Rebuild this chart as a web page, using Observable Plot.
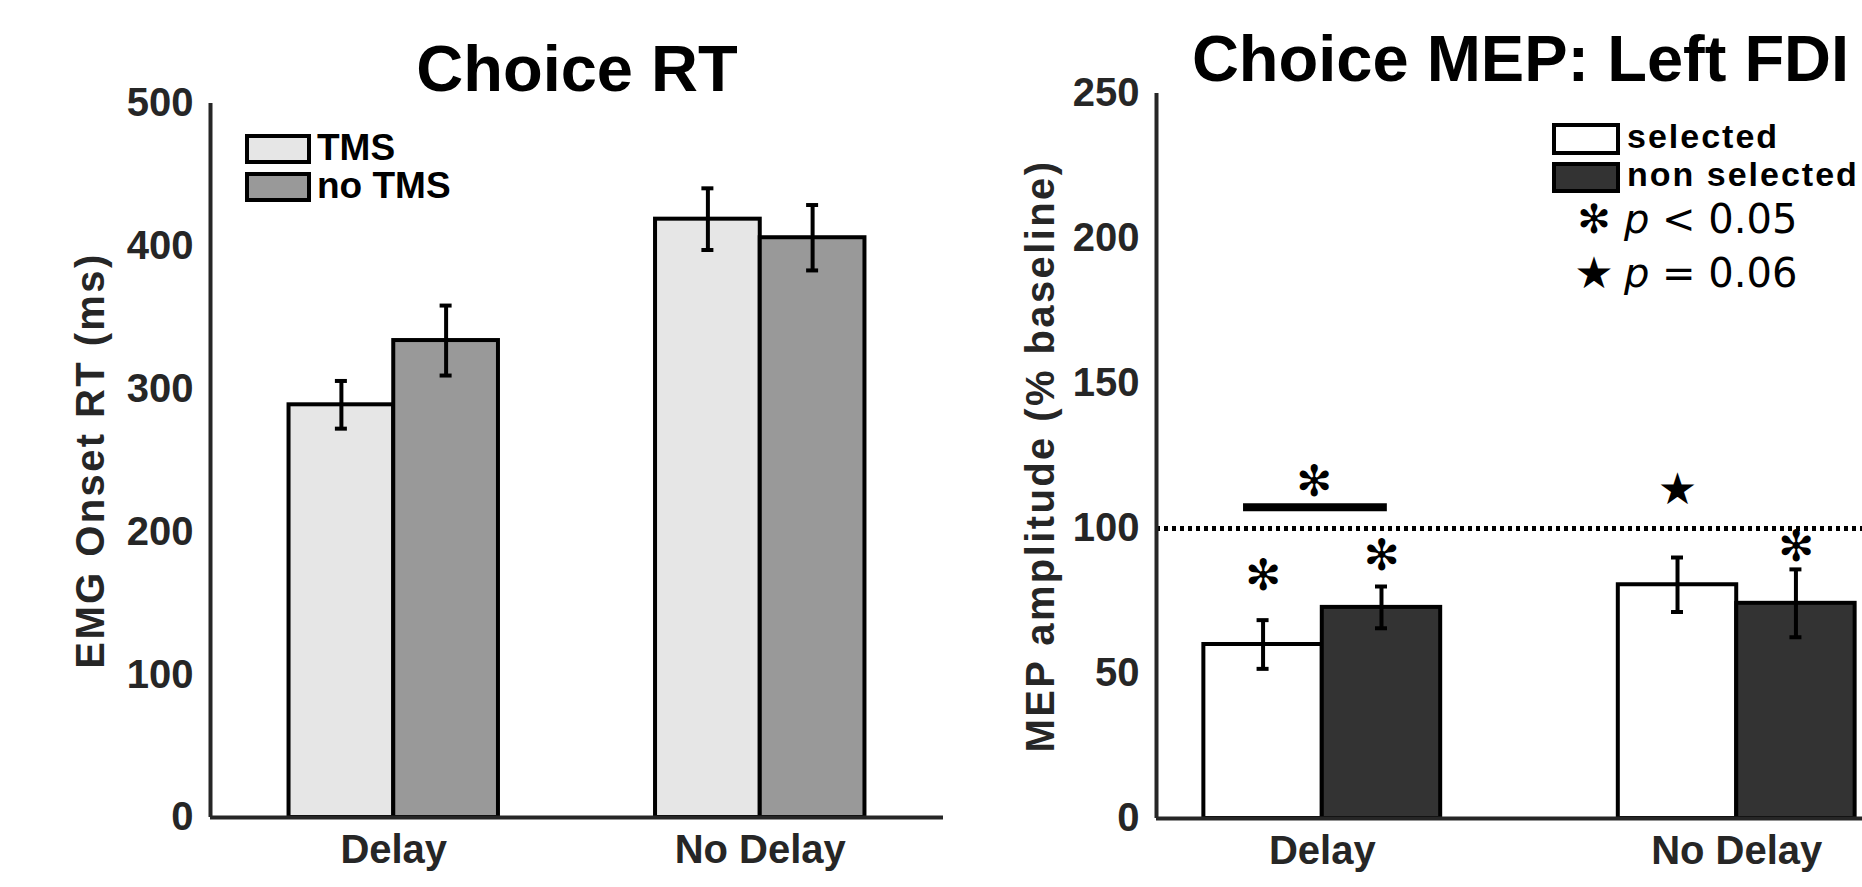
<!DOCTYPE html>
<html><head><meta charset="utf-8">
<script src="https://cdn.jsdelivr.net/npm/d3@7"></script>
<script src="https://cdn.jsdelivr.net/npm/@observablehq/plot@0.6"></script>
<style>
html,body{margin:0;padding:0;background:#fff;overflow:hidden;}
#fig{position:relative;width:1862px;height:887px;overflow:hidden;background:#fff;}
#left{position:absolute;left:0;top:0;width:960px;height:887px;}
#right{position:absolute;left:960px;top:0;width:1000px;height:887px;}
#fig svg{max-width:none !important;display:block;}
</style></head><body>
<div id="fig"><div id="left"></div><div id="right"></div></div>
<script>
// ---------- data ----------
const groups = ["Delay", "No Delay"];

// Left panel: Choice RT
const rtTitle = "Choice RT";
const rtYLabel = "EMG Onset RT (ms)";
const rtSeries = ["TMS", "no TMS"];
const rtTMS = [289, 419];
const rtTMSErr = [16.7, 21.6];
const rtNoTMS = [334, 406];
const rtNoTMSErr = [24.5, 22.9];
const rtTicks = [0, 100, 200, 300, 400, 500];

// Right panel: Choice MEP
const mepTitle = "Choice MEP: Left FDI";
const mepYLabel = "MEP amplitude (% baseline)";
const mepSeries = ["selected", "non selected"];
const mepSelected = [60, 80.6];
const mepSelectedErr = [8.4, 9.4];
const mepNonSelected = [72.8, 74.2];
const mepNonSelectedErr = [7.2, 11.7];
const mepTicks = [0, 50, 100, 150, 200, 250];
const mepBaseline = [100];

// significance annotations (group, series, height)
const sigAstGroup = ["Delay", "Delay", "No Delay"];
const sigAstSeries = ["selected", "non selected", "non selected"];
const sigAstY = [83.4, 90.3, 93.6];
const trendStarGroup = ["No Delay"];
const trendStarSeries = ["selected"];
const trendStarY = [113.2];
const pairBarX = [0.81, 1.157];
const pairBarY = [107.3];
const pairAstX = [0.98];
const pairAstY = [116.1];
const sigLegend = ["p < 0.05", "p = 0.06"];

// ---------- helpers ----------
const BW = 2 / 7; // grouped-bar width (2 bars, touching)
const center = (gi, si) => gi + 1 + (si - 0.5) * BW;
const font = "'Liberation Sans', Arial, Helvetica, sans-serif";

const rtData = groups.flatMap((g, gi) => [
  {group: g, series: rtSeries[0], c: center(gi, 0), value: rtTMS[gi], err: rtTMSErr[gi]},
  {group: g, series: rtSeries[1], c: center(gi, 1), value: rtNoTMS[gi], err: rtNoTMSErr[gi]}
]);
const mepData = groups.flatMap((g, gi) => [
  {group: g, series: mepSeries[0], c: center(gi, 0), value: mepSelected[gi], err: mepSelectedErr[gi]},
  {group: g, series: mepSeries[1], c: center(gi, 1), value: mepNonSelected[gi], err: mepNonSelectedErr[gi]}
]);
const posOf = (g, s, series) => center(groups.indexOf(g), series.indexOf(s));
const astData = sigAstGroup.map((g, i) => ({x: posOf(g, sigAstSeries[i], mepSeries), y: sigAstY[i]}));
const starData = trendStarGroup.map((g, i) => ({x: posOf(g, trendStarSeries[i], mepSeries), y: trendStarY[i]}));
const pairBar = [{x1: pairBarX[0], x2: pairBarX[1], y: pairBarY[0]}];
const pairAst = [{x: pairAstX[0], y: pairAstY[0]}];

function barMarks(data) {
  return [
    Plot.rect(data, {x1: d => d.c - BW / 2, x2: d => d.c + BW / 2, y1: 0, y2: "value", fill: "series", stroke: "black", strokeWidth: 4}),
    Plot.ruleX(data, {x: "c", y1: d => d.value - d.err, y2: d => d.value + d.err, stroke: "black", strokeWidth: 4}),
    Plot.ruleY(data, {x1: "c", x2: "c", y: d => d.value + d.err, insetLeft: -6, insetRight: -6, stroke: "black", strokeWidth: 4}),
    Plot.ruleY(data, {x1: "c", x2: "c", y: d => d.value - d.err, insetLeft: -6, insetRight: -6, stroke: "black", strokeWidth: 4})
  ];
}
function axisMarks(xmin, ticks, dxLabel, title, titleDx, ylabel) {
  return [
    Plot.ruleX([xmin], {stroke: "#262626", strokeWidth: 4}),
    Plot.ruleY([0], {stroke: "#262626", strokeWidth: 4}),
    Plot.axisY({ticks, tickSize: 0, tickPadding: 17, fontSize: 40, fontWeight: "bold", label: null}),
    Plot.axisX({ticks: [1, 2], tickFormat: d => groups[d - 1], tickSize: 0, tickPadding: 17, fontSize: 40, fontWeight: "bold", label: null}),
    Plot.text([title], {text: d => d, frameAnchor: "top", dx: titleDx, dy: -13, lineAnchor: "bottom", fontSize: 65, fontWeight: "bold", fill: "black"}),
    Plot.text([ylabel], {text: d => d, frameAnchor: "left", textAnchor: "middle", lineAnchor: "bottom", rotate: -90, dx: dxLabel, fontSize: 40, fontWeight: "bold", fill: "#262626"})
  ];
}

// ---------- left plot ----------
const leftPlot = Plot.plot({
  width: 960, height: 887,
  marginLeft: 210, marginRight: 17, marginTop: 103, marginBottom: 70,
  style: {fontFamily: font, background: "white", color: "#262626", overflow: "visible"},
  x: {domain: [0.5, 2.5], axis: null},
  y: {domain: [0, 500], axis: null},
  color: {domain: rtSeries, range: ["#e6e6e6", "#999999"]},
  marks: [
    ...barMarks(rtData),
    ...axisMarks(0.5, rtTicks, -107, rtTitle, 0, rtYLabel)
  ]
});
document.getElementById("left").appendChild(leftPlot);

// ---------- right plot ----------
const rightPlot = Plot.plot({
  width: 1000, height: 887,
  marginLeft: 196, marginRight: 58, marginTop: 93, marginBottom: 69,
  style: {fontFamily: font, background: "white", color: "#262626", overflow: "visible"},
  x: {domain: [0.6, 2.4], axis: null},
  y: {domain: [0, 250], axis: null},
  color: {domain: mepSeries, range: ["#ffffff", "#333333"]},
  marks: [
    Plot.ruleY(mepBaseline, {stroke: "black", strokeWidth: 5, strokeDasharray: "4,4"}),
    ...barMarks(mepData),
    Plot.ruleY(pairBar, {x1: "x1", x2: "x2", y: "y", stroke: "black", strokeWidth: 8}),
    Plot.text(pairAst, {x: "x", y: "y", text: () => "\u273B", fontFamily: "DejaVu Sans", fontSize: 43, fill: "black", lineAnchor: "middle"}),
    Plot.text(astData, {x: "x", y: "y", text: () => "\u273B", fontFamily: "DejaVu Sans", fontSize: 43, fill: "black", lineAnchor: "middle"}),
    Plot.text(starData, {x: "x", y: "y", text: () => "\u2605", fontFamily: "DejaVu Sans", fontSize: 44, fill: "black", lineAnchor: "middle"}),
    ...axisMarks(0.6, mepTicks, -103, mepTitle, -9, mepYLabel)
  ]
});
document.getElementById("right").appendChild(rightPlot);

// letter spacing for the y labels
for (const [svg, lab] of [[leftPlot, rtYLabel], [rightPlot, mepYLabel]]) {
  d3.select(svg).selectAll("text").filter(function () { return this.textContent === lab; })
    .style("letter-spacing", "2.4px");
}

// ---------- legends ----------
function legend(svg, items, opt) {
  const g = d3.select(svg).append("g").attr("class", "legend").attr("text-anchor", "start");
  items.forEach((it, i) => {
    g.append("rect").attr("x", opt.bx).attr("y", opt.by[i]).attr("width", opt.bw).attr("height", opt.bh[i])
      .attr("fill", it.fill).attr("stroke", "black").attr("stroke-width", 4);
    g.append("text").attr("x", opt.tx).attr("y", opt.ty[i]).attr("text-anchor", "start").text(it.label)
      .attr("fill", "black").style("font-family", font).style("font-weight", "bold")
      .style("font-size", opt.fs + "px").style("letter-spacing", opt.ls + "px");
  });
  return g;
}
legend(leftPlot, rtSeries.map((s, i) => ({label: s, fill: ["#e6e6e6", "#999999"][i]})),
  {bx: 247, by: [136, 174], bw: 62, bh: [26, 26], tx: 317, ty: [160, 198], fs: 37, ls: 0});
const rg = legend(rightPlot, mepSeries.map((s, i) => ({label: s, fill: ["#ffffff", "#333333"][i]})),
  {bx: 594, by: [125, 164], bw: 64, bh: [28, 27], tx: 667, ty: [148, 186], fs: 34, ls: 2});
const symbols = ["\u273B", "\u2605"];
const symY = [218.5, 273];
const symSize = [40, 44];
const txtY = [233, 287];
sigLegend.forEach((s, i) => {
  rg.append("text").attr("x", 634).attr("y", symY[i]).attr("dy", "0.35em").attr("text-anchor", "middle")
    .style("font-family", "DejaVu Sans").style("font-size", symSize[i] + "px").attr("fill", "black").text(symbols[i]);
  const t = rg.append("text").attr("x", 664).attr("y", txtY[i]).attr("text-anchor", "start").attr("fill", "black")
    .style("font-family", "'DejaVu Sans', sans-serif").style("font-size", "40px");
  t.append("tspan").style("font-style", "italic").text(s.slice(0, 1));
  t.append("tspan").text(s.slice(1));
});
</script>
</body></html>
